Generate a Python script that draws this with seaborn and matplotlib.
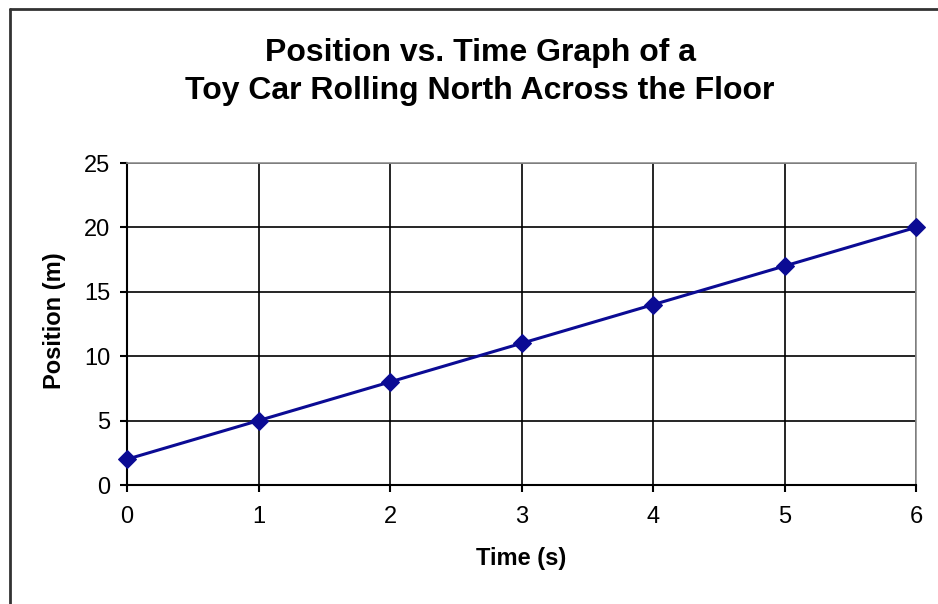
import matplotlib
matplotlib.use("Agg")
import matplotlib.pyplot as plt
import seaborn as sns
import pandas as pd
from matplotlib.lines import Line2D

time_s = [0, 1, 2, 3, 4, 5, 6]
position_m = [2, 5, 8, 11, 14, 17, 20]
x_ticks = [0, 1, 2, 3, 4, 5, 6]
y_ticks = [0, 5, 10, 15, 20, 25]

sns.set_theme(style="white")
plt.rcParams['font.family'] = ['Liberation Sans', 'DejaVu Sans']
plt.rcParams['text.color'] = 'black'
plt.rcParams['axes.labelcolor'] = 'black'
plt.rcParams['xtick.color'] = 'black'
plt.rcParams['ytick.color'] = 'black'

df = pd.DataFrame({"Time (s)": time_s, "Position (m)": position_m})

W, H = 938, 604
fig = plt.figure(figsize=(W / 100, H / 100), dpi=100)
fig.patch.set_facecolor("white")
L, R, T, B = 127, 916, 163, 485
ax = fig.add_axes([L / W, 1 - B / H, (R - L) / W, (B - T) / H])

sns.lineplot(data=df, x="Time (s)", y="Position (m)", ax=ax, color="#0b0b94",
             linewidth=2.2, marker="D", markersize=9, markeredgecolor="#0b0b94",
             zorder=5, clip_on=False)

ax.set_xlim(0, 6)
ax.set_ylim(0, 25)
ax.set_xticks(x_ticks)
ax.set_yticks(y_ticks)
ax.grid(True, color="black", linewidth=1.2)
ax.set_axisbelow(True)
for s in ["left", "bottom"]:
    ax.spines[s].set_color("black")
    ax.spines[s].set_linewidth(1.5)
for s in ["top", "right"]:
    ax.spines[s].set_color("#909090")
    ax.spines[s].set_linewidth(1.2)
ax.tick_params(axis="both", direction="out", length=5, width=1.5, color="black",
               labelsize=17, bottom=True, left=True)
ax.tick_params(axis="x", pad=10)
ax.tick_params(axis="y", pad=7)

ax.set_xlabel("Time (s)", fontsize=17, fontweight="bold", va="center", ha="center")
ax.set_ylabel("Position (m)", fontsize=17, fontweight="bold", va="center", ha="center")
ax.xaxis.set_label_coords((521 - L) / (R - L), (B - 559) / (B - T))
ax.yaxis.set_label_coords((54 - L) / (R - L), (B - 321) / (B - T))

fig.text(480 / W, 1 - 72 / H, "Position vs. Time Graph of a\nToy Car Rolling North Across the Floor",
         ha="center", va="center", fontsize=23, fontweight="bold", linespacing=1.38)

fig.add_artist(Line2D([10 / W, 10 / W], [0, 1 - 9 / H], transform=fig.transFigure,
                      color="#333333", linewidth=2))
fig.add_artist(Line2D([10 / W, 1], [1 - 9 / H, 1 - 9 / H], transform=fig.transFigure,
                      color="#333333", linewidth=2))

fig.savefig("out.png", dpi=100)
